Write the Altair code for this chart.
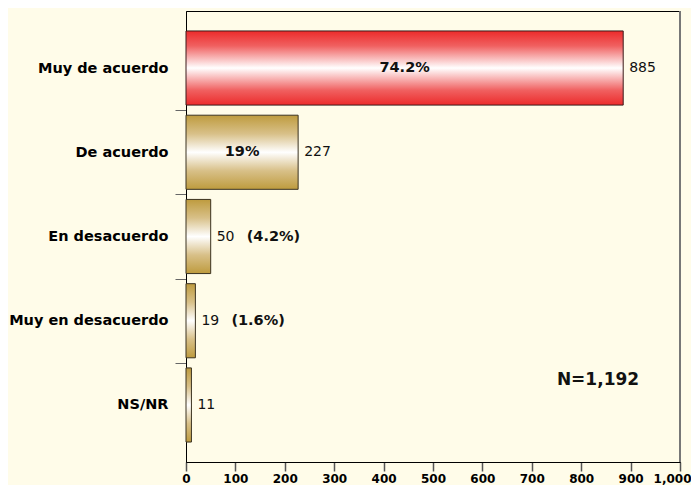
import altair as alt
import pandas as pd

categories = ["Muy de acuerdo", "De acuerdo", "En desacuerdo", "Muy en desacuerdo", "NS/NR"]
counts = [885, 227, 50, 19, 11]
pct_inside = ["74.2%", "19%", "", "", ""]
pct_outside = ["", "", "(4.2%)", "(1.6%)", ""]
highlight = [True, False, False, False, False]
x_ticks = [0, 100, 200, 300, 400, 500, 600, 700, 800, 900, 1000]
x_max = 1000
n_label = "N=1,192"
title_text = "MARZO 2010"

df = pd.DataFrame({
    "cat": categories,
    "count": counts,
    "pin": pct_inside,
    "pout": pct_outside,
    "hl": highlight,
})

FONT = "DejaVu Sans"
BG = "#FFFCE9"

red_grad = alt.Gradient(
    gradient="linear", x1=0, x2=0, y1=0, y2=1,
    stops=[
        alt.GradientStop(color="#EC2B2B", offset=0),
        alt.GradientStop(color="#F06060", offset=0.2),
        alt.GradientStop(color="#FFFFFF", offset=0.5),
        alt.GradientStop(color="#F06060", offset=0.8),
        alt.GradientStop(color="#EC2B2B", offset=1),
    ],
)
gold_grad = alt.Gradient(
    gradient="linear", x1=0, x2=0, y1=0, y2=1,
    stops=[
        alt.GradientStop(color="#BE9B3E", offset=0),
        alt.GradientStop(color="#D8C088", offset=0.25),
        alt.GradientStop(color="#FFFFFF", offset=0.5),
        alt.GradientStop(color="#D8C088", offset=0.75),
        alt.GradientStop(color="#BE9B3E", offset=1),
    ],
)

x_enc = alt.X(
    "count:Q",
    scale=alt.Scale(domain=[0, x_max], nice=False, zero=True),
    axis=alt.Axis(
        values=x_ticks, format=",.0f", title=None, grid=False,
        labelFont=FONT, labelFontWeight="bold", labelFontSize=12, labelColor="#000",
        labelFlush=False, labelPadding=2, tickSize=9, tickColor="#555", tickWidth=1.5,
        labelAlign={"condition": {"test": "datum.value === 1000", "value": "right"}, "value": "center"},
        labelOffset={"condition": {"test": "datum.value === 1000", "value": 11}, "value": 0},
        domainColor="#000", domainWidth=1,
    ),
)
y_enc = alt.Y(
    "cat:N", sort=categories,
    scale=alt.Scale(paddingInner=0.12, paddingOuter=0.237),
    axis=alt.Axis(
        title=None, labelFont=FONT, labelFontWeight="bold", labelFontSize=14.5,
        labelColor="#000", labelPadding=7, labelLimit=0, tickSize=11,
        bandPosition=0, tickOffset=-5, labelOffset=5,
        tickColor={"condition": {"test": "datum.value === 'Muy de acuerdo'", "value": "transparent"}, "value": "#666"},
        domainColor="#000", domainWidth=1,
    ),
)

base = alt.Chart(df)

bars_red = base.transform_filter("datum.hl").mark_bar(
    color=red_grad, stroke="#3a1a1a", strokeWidth=1
).encode(x=x_enc, y=y_enc)

bars_gold = base.transform_filter("!datum.hl").mark_bar(
    color=gold_grad, stroke="#3a3220", strokeWidth=1
).encode(x=x_enc, y=y_enc)

count_text = base.mark_text(
    align="left", baseline="middle", dx=6, font=FONT, fontSize=14, color="#111"
).encode(x=x_enc, y=y_enc, text="count:Q")

pin_text = base.transform_calculate(half="datum.count / 2").mark_text(
    align="center", baseline="middle", font=FONT, fontSize=14.5, fontWeight="bold", color="#111"
).encode(x=alt.X("half:Q"), y=y_enc, text="pin:N")

pout_text = base.mark_text(
    align="left", baseline="middle", dx=36, font=FONT, fontSize=14.5, fontWeight="bold", color="#111"
).encode(x=x_enc, y=y_enc, text="pout:N")

n_text = alt.Chart(pd.DataFrame({"t": [n_label]})).mark_text(
    align="center", baseline="middle", font=FONT, fontSize=17, fontWeight="bold", color="#111"
).encode(text="t:N", x=alt.value(412), y=alt.value(369))

right_edge = alt.Chart(pd.DataFrame({"count": [x_max]})).mark_rule(
    color="#777", strokeWidth=2
).encode(x=x_enc)

chart = alt.layer(bars_red, bars_gold, count_text, pin_text, pout_text, n_text, right_edge).properties(
    width=494, height=451,
    autosize=alt.AutoSizeParams(type="none"),
    padding={"left": 178, "top": 3, "right": 11, "bottom": 23},
    background=BG,
    title=alt.TitleParams(title_text, font=FONT, fontSize=10.5, fontWeight="bold",
                          color="#000", anchor="middle", frame="group", dx=-62, offset=1),
).configure_view(stroke="#000", strokeWidth=1)

chart.save("out.html", embed_options={"renderer": "svg", "actions": False})
